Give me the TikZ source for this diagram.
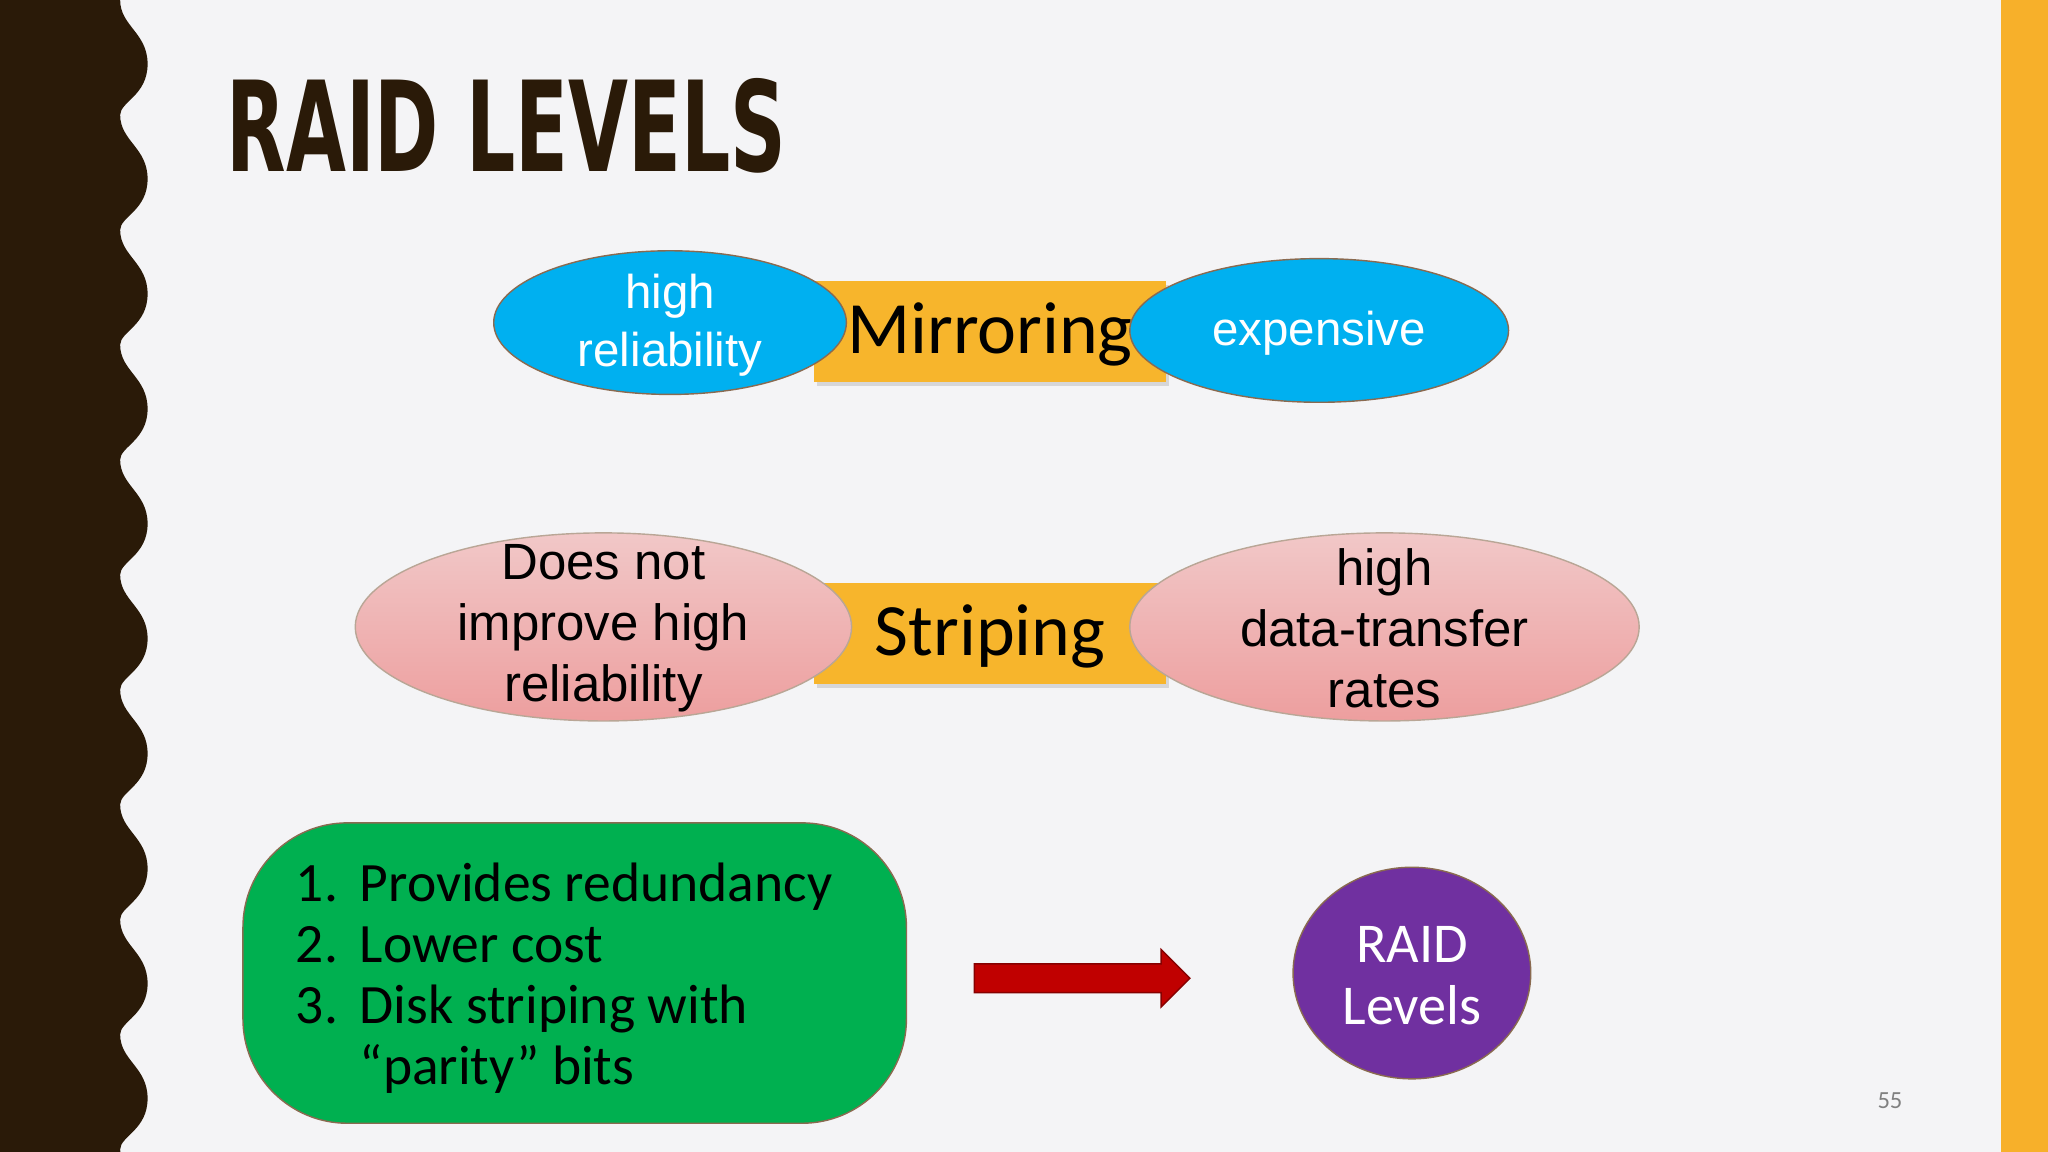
\documentclass[tikz,border=0pt]{standalone}
\usepackage{fontspec}
\setmainfont{Carlito}
\newfontfamily\arialf{Liberation Sans}
\newfontfamily\titlef{DejaVu Sans Condensed}
\usetikzlibrary{shapes.geometric,shadows}
\definecolor{bg}{HTML}{F4F4F6}
\definecolor{brownd}{HTML}{2A1A08}
\definecolor{orangeb}{HTML}{F7B02A}
\definecolor{boxor}{HTML}{F7B52C}
\definecolor{blueel}{HTML}{00B0F0}
\definecolor{pinkel}{HTML}{EBB0B0}
\definecolor{greenb}{HTML}{00B050}
\definecolor{purp}{HTML}{7030A0}
\definecolor{redar}{HTML}{C00000}
\definecolor{edge}{HTML}{8A6A50}
\begin{document}
\begin{tikzpicture}[x=0.01306cm,y=-0.01306cm,
  lbl/.style={fill=boxor,minimum width=270*0.01306cm,minimum height=77*0.01306cm,inner sep=0,drop shadow={shadow xshift=0.3mm,shadow yshift=-0.4mm,opacity=0.25}},
  lt/.style={font=\fontsize{21}{25}\selectfont,inner sep=0},
  bl/.style={ellipse,fill=blueel,draw=edge,inner sep=0},
  pk/.style={ellipse,top color=pinkel!70!white,bottom color=pinkel!90!red,draw=edge!60,inner sep=0},
  bt/.style={text=white,align=center,inner sep=0,font=\arialf\fontsize{13.5}{16.5}\selectfont},
  pt/.style={align=center,inner sep=0,font=\arialf\fontsize{14.5}{17.3}\selectfont}]
\fill[bg] (0,0) rectangle (1568,882);
\useasboundingbox (0,0) rectangle (1568,882);
\fill[orangeb] (1532,0) rectangle (1568,882);
\fill[brownd] (0,0) -- (92,0)
  \foreach \k in {0,...,10} { .. controls (92,{\k*88+20}) and (113,{\k*88+25}) .. (113,{\k*88+49}) .. controls (113,{\k*88+73}) and (92,{\k*88+78}) .. (92,{\k*88+88}) }
  -- (92,882) -- (0,882) -- cycle;
\node[anchor=west,text=brownd,inner sep=0] (title) at (173,96) {\titlef\bfseries\fontsize{34}{40}\selectfont\scalebox{0.72}[1.05]{RAID LEVELS}};

\node[lbl] (mir) at (758,254) {};
\node[bl,minimum width=270*0.01306cm,minimum height=110*0.01306cm] (hr) at (513,247) {};
\node[lt] (mirt) at (758,256) {Mirroring};
\node[bl,minimum width=290*0.01306cm,minimum height=110*0.01306cm] (exp) at (1010,253) {};
\node[bt] (hrt) at (513,249) {high\\reliability};
\node[bt] (expt) at (1010,255) {expensive};

\node[lbl] (str) at (758,485) {};
\node[lt] (strt) at (758,487) {Striping};
\node[pk,minimum width=380*0.01306cm,minimum height=144*0.01306cm] (dn) at (462,480) {};
\node[pk,minimum width=390*0.01306cm,minimum height=144*0.01306cm] (hd) at (1060,480) {};
\node[pt] (dnt) at (462,481) {Does not\\improve high\\reliability};
\node[pt] (hdt) at (1060,481) {high\\data-transfer\\rates};

\node[draw=edge,fill=greenb,rounded corners=80*0.01306cm,minimum width=508*0.01306cm,minimum height=230*0.01306cm] (grn) at (440,745) {};
\node[anchor=north west,align=left,inner sep=0,font=\fontsize{15.8}{17.4}\selectfont] (lst) at (226,660) {1.\ \,Provides redundancy\\2.\ \,Lower cost\\3.\ \,Disk striping with\\\phantom{3.}\ \,“parity” bits};

\fill[redar,draw=redar!70!black] (746,738) -- (889,738) -- (889,727) -- (911,749) -- (889,771) -- (889,760) -- (746,760) -- cycle;

\node[ellipse,fill=purp,draw=edge,minimum width=182*0.01306cm,minimum height=162*0.01306cm] (rl) at (1081,745) {};
\node[text=white,align=center,inner sep=0,font=\fontsize{16}{17.5}\selectfont] (rlt) at (1081,747) {RAID\\Levels};
\node[text=gray,font=\fontsize{7}{8}\selectfont] (pg) at (1447,843) {55};
\end{tikzpicture}
\end{document}
